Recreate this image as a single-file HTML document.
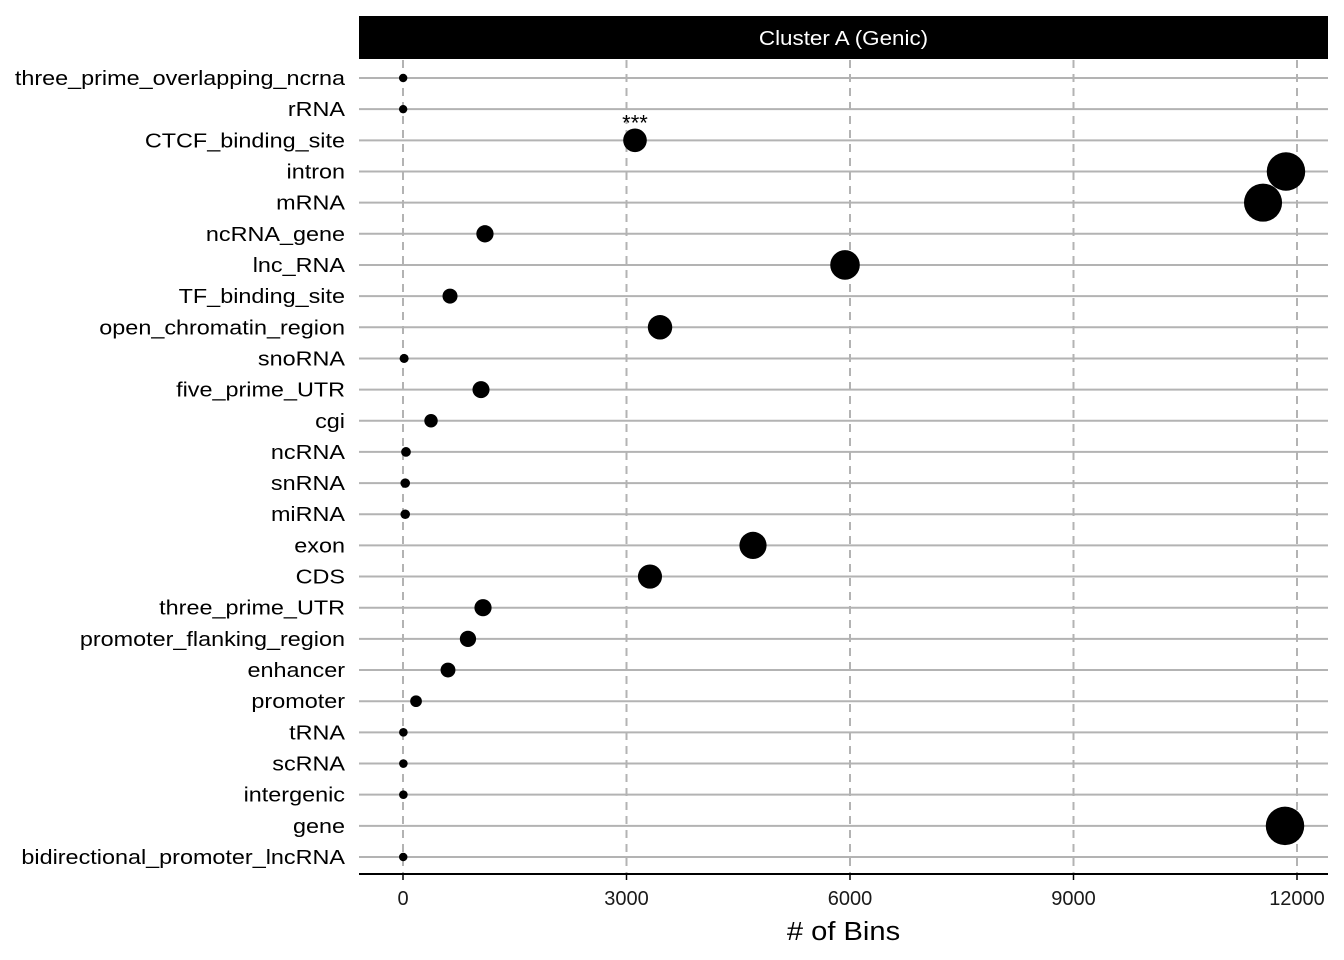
<!DOCTYPE html>
<html><head><meta charset="utf-8"><style>
body{margin:0;background:#fff;}
svg{display:block;font-family:"Liberation Sans",Arial,sans-serif;}
</style></head><body>
<svg id="chart" width="1344" height="960"></svg>
<script>
const categories=["three_prime_overlapping_ncrna","rRNA","CTCF_binding_site","intron","mRNA","ncRNA_gene","lnc_RNA","TF_binding_site","open_chromatin_region","snoRNA","five_prime_UTR","cgi","ncRNA","snRNA","miRNA","exon","CDS","three_prime_UTR","promoter_flanking_region","enhancer","promoter","tRNA","scRNA","intergenic","gene","bidirectional_promoter_lncRNA"];
const values=[2,2,3114,11852,11544,1100,5933,631,3450,15,1047,376,40,30,30,4698,3315,1074,872,604,175,5,5,5,11839,3];
const annotations=["","","***","","","","","","","","","","","","","","","","","","","","","","",""];
const xTicks=[0,3000,6000,9000,12000];
const NS="http://www.w3.org/2000/svg";
const svg=document.getElementById("chart");
const X0=359,X1=1328,Y0=60,Y1=874;
const xs=v=>403+v*(1297-403)/12000;
const ys=i=>78+i*(857-78)/(categories.length-1);
const rs=v=>4+Math.sqrt(Math.max(v,0))*0.14;
function mk(t,a,txt){const e=document.createElementNS(NS,t);for(const k in a)e.setAttribute(k,a[k]);if(txt!==undefined)e.textContent=txt;svg.appendChild(e);return e;}
let e=mk("rect",{x:X0,y:16,width:X1-X0,height:43,fill:"#000"});


e=mk("text",{x:0,y:0,"text-anchor":"middle",fill:"#fff","font-size":20,transform:"translate("+((X0+X1)/2)+",45) scale(1.12,1)"},"Cluster A (Genic)");


categories.forEach((c,i)=>{
  e=mk("line",{x1:X0,x2:X1,y1:ys(i),y2:ys(i),stroke:"#b3b3b3","stroke-width":2});
  
  
});
xTicks.forEach(t=>{
  e=mk("line",{x1:xs(t),x2:xs(t),y1:Y0,y2:Y1,stroke:"#b3b3b3","stroke-width":2,"stroke-dasharray":"8,6"});
  
  
  e=mk("line",{x1:xs(t),x2:xs(t),y1:Y1,y2:Y1+6,stroke:"#000","stroke-width":1.5});
  
  
  e=mk("text",{x:xs(t),y:905,"text-anchor":"middle","font-size":20,fill:"#1a1a1a"},String(t));
  
  
});
e=mk("line",{x1:X0,x2:X1,y1:Y1,y2:Y1,stroke:"#000","stroke-width":2});


categories.forEach((c,i)=>{
  e=mk("text",{x:0,y:0,"text-anchor":"end","font-size":20,fill:"#000",transform:"translate(345,"+(ys(i)+7)+") scale(1.17,1)"},c);
  
  
  e=mk("circle",{cx:xs(values[i]),cy:ys(i),r:rs(values[i]),fill:"#000"});
  
  
  if(annotations[i]){
    e=mk("text",{x:xs(values[i]),y:ys(i)-10,"text-anchor":"middle","font-size":22,fill:"#000"},annotations[i]);
    
    
  }
});
e=mk("text",{x:0,y:0,"text-anchor":"middle","font-size":26,fill:"#000",transform:"translate("+((X0+X1)/2)+",940) scale(1.12,1)"},"# of Bins");


</script>
</body></html>
